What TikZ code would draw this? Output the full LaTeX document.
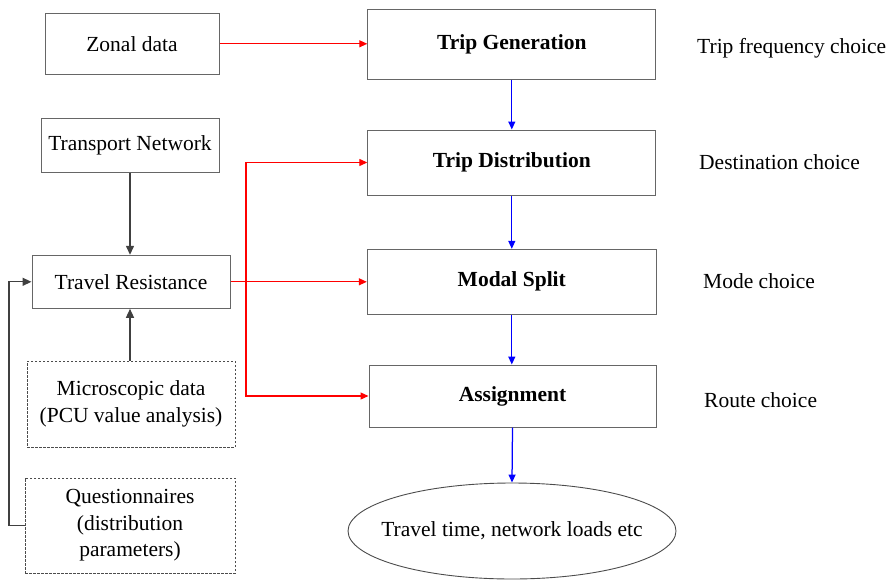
\documentclass[tikz,border=0pt]{standalone}
\usepackage{fontspec}
\setmainfont{Liberation Serif}
\usetikzlibrary{arrows.meta,shapes.geometric,calc}

\tikzset{
  box/.style={draw=black!60, line width=1pt, rectangle, inner sep=0pt, align=center},
  dbox/.style={draw=black!70, line width=0.8pt, dash pattern=on 2.5pt off 1.5pt, rectangle, inner sep=0pt, align=center},
  side/.style={anchor=west, inner sep=0pt},
  tip/.style={-{Triangle[length=8pt,width=7pt]}},
  redarr/.style={tip, color=red, line width=1.25pt},
  bluearr/.style={tip, color=blue, line width=1.25pt},
  grayarr/.style={-{Triangle[length=9pt,width=8pt]}, color=black!75, line width=1.3pt},
}

\begin{document}
\begin{tikzpicture}[x=1pt, y=-1pt, font=\fontsize{21.5}{26.5}\selectfont]
  \useasboundingbox (0,0) rectangle (889,581);

  % main chain of the four-stage model
  \node[box, minimum width=288pt, minimum height=70pt] (gen) at (511.8,44) {\textbf{Trip Generation}};
  \node[box, minimum width=288pt, minimum height=65pt] (dist) at (511.8,162.5) {\textbf{Trip Distribution}};
  \node[box, minimum width=289pt, minimum height=65pt] (ms) at (511.8,281.8) {\textbf{Modal Split}};
  \node[box, minimum width=287pt, minimum height=62pt] (assign) at (512.5,396) {\textbf{Assignment}};
  \node[draw=black!70, line width=0.9pt, ellipse, minimum width=328pt, minimum height=96pt, inner sep=0pt] (out) at (512,531) {\makebox[0pt]{Travel time, network loads etc}};

  % inputs
  \node[box, minimum width=174pt, minimum height=61pt] (zonal) at (132,43.8) {Zonal data};
  \node[box, minimum width=178pt, minimum height=54pt] (tn) at (130,145) {Transport Network};
  \node[box, minimum width=198pt, minimum height=53pt] (tr) at (131,281.8) {Travel Resistance};
  \node[dbox, minimum width=208pt, minimum height=86pt] (micro) at (131,404) {Microscopic data\\(PCU value analysis)};
  \node[dbox, minimum width=210pt, minimum height=95pt] (quest) at (130,525.5) {Questionnaires\\(distribution\\parameters)};

  % choice labels
  \node[side] (l1) at (697,48) {Trip frequency choice};
  \node[side] (l2) at (699,162.5) {Destination choice};
  \node[side] (l3) at (703,281.5) {Mode choice};
  \node[side] (l4) at (704,400) {Route choice};

  % helper coordinates for bends
  \coordinate (rb) at (246,0);
  \coordinate (lb) at (9,0);

  % connectors
  \draw[redarr] (zonal.east) -- (zonal.east -| gen.west);
  \draw[bluearr] (gen.south) -- (dist.north);
  \draw[bluearr] (dist.south) -- (ms.north);
  \draw[bluearr] (ms.south) -- (ms.south |- assign.north);
  \draw[bluearr] (assign.south) -- (out.north);

  \draw[grayarr] (tn.south) -- (tn.south |- tr.north);
  \draw[grayarr] (tn.south |- micro.north) -- (tn.south |- tr.south);
  \draw[grayarr] (quest.west) -- (quest.west -| lb) |- (tr.west);

  \draw[redarr] (tr.east) -- (tr.east -| ms.west);
  \draw[redarr] (tr.east -| rb) |- (dist.west);
  \draw[redarr] (tr.east -| rb) |- (assign.west);
\end{tikzpicture}
\end{document}
